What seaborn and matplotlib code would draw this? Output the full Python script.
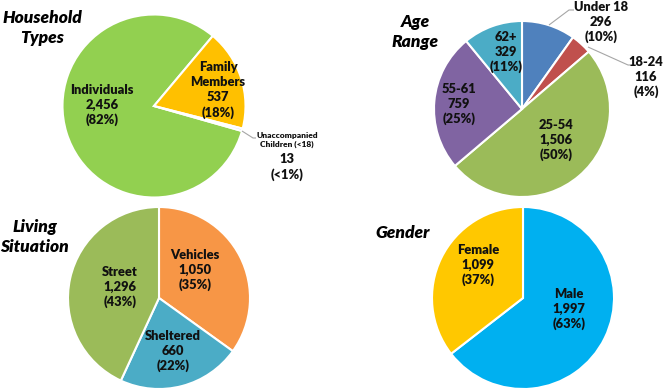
import matplotlib
matplotlib.use("Agg")
import matplotlib.pyplot as plt
import seaborn as sns

# ---- data ----
household_labels = ["Individuals", "Family\nMembers", "Unaccompanied\nChildren (<18)"]
household_counts = [2456, 537, 13]
household_pcts = ["82%", "18%", "<1%"]

age_labels = ["Under 18", "18-24", "25-54", "55-61", "62+"]
age_counts = [296, 116, 1506, 759, 329]
age_pcts = ["10%", "4%", "50%", "25%", "11%"]

living_labels = ["Vehicles", "Sheltered", "Street"]
living_counts = [1050, 660, 1296]
living_pcts = ["35%", "22%", "43%"]

gender_labels = ["Male", "Female"]
gender_counts = [1997, 1099]
gender_pcts = ["63%", "37%"]

# ---- colours ----
household_colors = ["#92D050", "#FFC000", "#C5D9F1"]
age_colors = ["#4F81BD", "#C0504D", "#9BBB59", "#8064A2", "#4BACC6"]
living_colors = ["#F79646", "#4BACC6", "#9BBB59"]
gender_colors = ["#00B0F0", "#FFC800"]

W, H = 663, 391
sns.set_theme(style="white")
plt.rcParams["font.family"] = ["Lato", "DejaVu Sans"]

fig = plt.figure(figsize=(W / 100, H / 100), dpi=100)
ax = fig.add_axes([0, 0, 1, 1])

TXT = "#111111"
WEIGHT = 800


def Y(y):
    # pixel rows (top down) -> data y
    return H - y


def draw_pie(counts, colors, center, radius, start):
    ax.pie(counts, colors=colors, startangle=start, counterclock=False,
           center=(center[0], Y(center[1])), radius=radius,
           wedgeprops=dict(edgecolor="white", linewidth=1.5))


def slice_label(x, y, name, count, pct, size=9.3):
    ax.text(x, Y(y), f"{name}\n{count:,}\n({pct})", ha="center", va="center",
            fontsize=size, fontweight=WEIGHT, color=TXT, linespacing=1.27)


def title(x, y, s):
    ax.text(x, Y(y), s, ha="center", va="center", fontsize=12.5,
            fontweight=WEIGHT, fontstyle="italic", color="black",
            linespacing=1.35)


def leader(xs, ys):
    ax.plot(xs, [Y(v) for v in ys], color="#A6A6A6", lw=0.8, solid_capstyle="butt")


# Household types
draw_pie(household_counts, household_colors, (154, 106), 91.5, -15.87)
title(42, 28, "Household\nTypes")
slice_label(102, 105, household_labels[0], household_counts[0], household_pcts[0])
slice_label(218, 90, household_labels[1], household_counts[1], household_pcts[1])
ax.text(287, Y(140), household_labels[2], ha="center", va="center", fontsize=6,
        fontweight=WEIGHT, color=TXT, linespacing=1.3)
ax.text(287, Y(167), f"{household_counts[2]:,}\n({household_pcts[2]})", ha="center",
        va="center", fontsize=9.3, fontweight=WEIGHT, color=TXT, linespacing=1.3)
leader([242, 253, 256], [131, 138, 138])

# Age range
draw_pie(age_counts, age_colors, (522, 109), 88, 90)
title(415, 32, "Age\nRange")
slice_label(601, 22, age_labels[0], age_counts[0], age_pcts[0])
slice_label(646, 77, age_labels[1], age_counts[1], age_pcts[1])
slice_label(556, 140, age_labels[2], age_counts[2], age_pcts[2])
slice_label(459, 104, age_labels[3], age_counts[3], age_pcts[3])
slice_label(506, 52, age_labels[4], age_counts[4], age_pcts[4])
leader([549, 569, 574], [25, 10, 10])
leader([588, 628, 630], [47, 65, 65])

# Living situation
draw_pie(living_counts, living_colors, (159, 298), 91, 90)
title(35, 237, "Living\nSituation")
slice_label(195, 270, living_labels[0], living_counts[0], living_pcts[0])
slice_label(173, 351, living_labels[1], living_counts[1], living_pcts[1])
slice_label(120, 287, living_labels[2], living_counts[2], living_pcts[2])

# Gender
draw_pie(gender_counts, gender_colors, (523, 298), 91, 90)
title(403, 233, "Gender")
slice_label(569, 309, gender_labels[0], gender_counts[0], gender_pcts[0])
slice_label(478, 265, gender_labels[1], gender_counts[1], gender_pcts[1])

ax.set_xlim(0, W)
ax.set_ylim(0, H)
ax.set_aspect("equal")
ax.axis("off")

fig.savefig("out.png", dpi=100, facecolor="white")
